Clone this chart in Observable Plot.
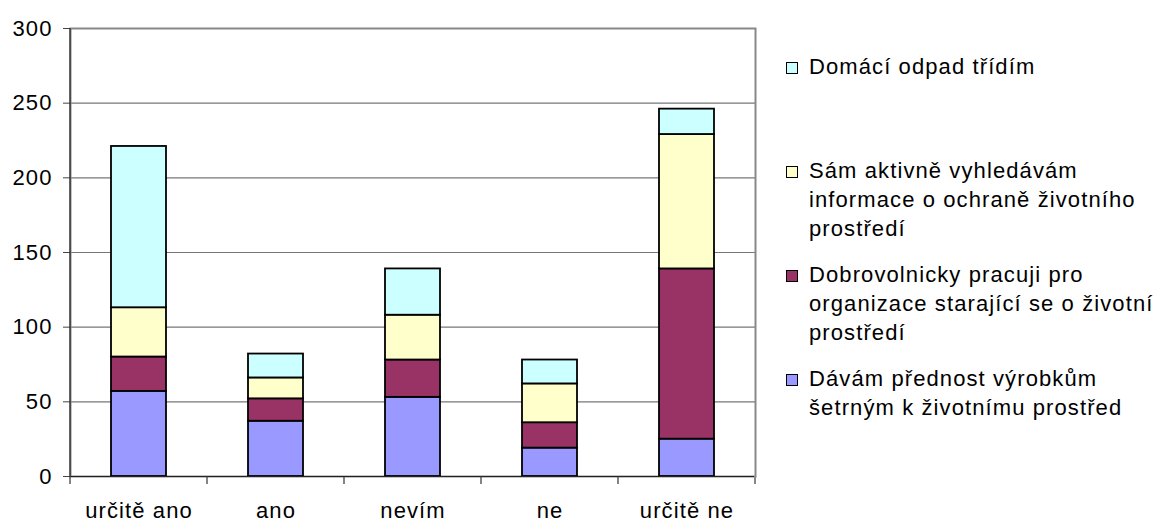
<!DOCTYPE html>
<html><head><meta charset="utf-8">
<script src="https://cdn.jsdelivr.net/npm/d3@7"></script>
<script src="https://cdn.jsdelivr.net/npm/@observablehq/plot@0.6"></script>
<style>
body{margin:0;background:#fff;}
#wrap{position:relative;width:1165px;height:523px;font-family:"Liberation Sans",Arial,sans-serif;background:#fff;}
.legend{position:absolute;left:786px;top:0;}
.item{position:absolute;left:0;white-space:nowrap;font-size:22px;line-height:29px;letter-spacing:1.1px;color:#000;}
.sw{position:absolute;left:0;width:10px;height:10px;border:1.5px solid #000;}
.txt{position:absolute;left:23px;top:0;}
</style></head><body><div id="wrap"></div>
<script>
// Categories (x axis)
const categories = ["určitě ano", "ano", "nevím", "ne", "určitě ne"];
// Series, bottom of stack first
const seriesNames = [
  "Dávám přednost výrobkům šetrným k životnímu prostřed",
  "Dobrovolnicky pracuji pro organizace starající se o životní prostředí",
  "Sám aktivně vyhledávám informace o ochraně životního prostředí",
  "Domácí odpad třídím"
];
const legendLines = [
  ["Dávám přednost výrobkům", "šetrným k životnímu prostřed"],
  ["Dobrovolnicky pracuji pro", "organizace starající se o životní", "prostředí"],
  ["Sám aktivně vyhledávám", "informace o ochraně životního", "prostředí"],
  ["Domácí odpad třídím"]
];
const seriesColors = ["#9999FF", "#993366", "#FFFFCC", "#CCFFFF"];
const valuesProdukty = [57, 37, 53, 19, 25];
const valuesDobrovolnik = [23, 15, 25, 17, 114];
const valuesInformace = [33, 14, 30, 26, 90];
const valuesOdpad = [108, 16, 31, 16, 17];
const yTicks = [0, 50, 100, 150, 200, 250, 300];

const seriesValues = [valuesProdukty, valuesDobrovolnik, valuesInformace, valuesOdpad];
const data = [];
seriesNames.forEach((s, si) => categories.forEach((c, ci) => data.push({category: c, series: s, value: seriesValues[si][ci]})));

const plot = Plot.plot({
  width: 1165,
  height: 523,
  marginLeft: 70,
  marginRight: 410,
  marginTop: 28,
  marginBottom: 47,
  style: {fontFamily: "'Liberation Sans', Arial, sans-serif", fontSize: "22px", letterSpacing: "1.1px", color: "#000", background: "#fff", overflow: "visible"},
  x: {domain: categories, paddingInner: 0.6, paddingOuter: 0.3, label: null},
  y: {domain: [0, 300], label: null},
  color: {domain: seriesNames, range: seriesColors},
  marks: [
    Plot.ruleY(yTicks.filter(d => d > 0 && d < 300), {stroke: "#777", strokeWidth: 1.2}),
    Plot.frame({stroke: "#888", strokeWidth: 2}),
    Plot.barY(data, Plot.stackY({order: null}, {x: "category", y: "value", fill: "series", stroke: "#000", strokeWidth: 1.8})),
    Plot.axisY({ticks: yTicks, tickSize: 7, tickPadding: 11, stroke: "#444", fill: "#000"}),
    Plot.axisX({tickSize: 0, tickPadding: 26, fill: "#000"}),
    Plot.ruleY([0], {stroke: "#222", strokeWidth: 1.2})
  ]
});

const xs = plot.scale("x");
const ys = plot.scale("y");
const off = (xs.step - xs.bandwidth) / 2;
const bounds = categories.map(c => xs.apply(c) - off);
bounds.push(xs.apply(categories[categories.length - 1]) + xs.bandwidth + off);
const y0 = ys.apply(0), yTop = ys.apply(300);
const g = d3.select(plot).append("g");
g.selectAll("line.bt").data(bounds).join("line")
  .attr("class", "bt")
  .attr("x1", d => d).attr("x2", d => d)
  .attr("y1", y0).attr("y2", y0 + 8)
  .attr("stroke", (d, i) => i === bounds.length - 1 ? "#888" : "#333")
  .attr("stroke-width", (d, i) => i === bounds.length - 1 ? 2 : 1.2);
g.append("line").attr("x1", bounds[0]).attr("x2", bounds[0]).attr("y1", yTop).attr("y2", y0)
  .attr("stroke", "#222").attr("stroke-width", 1.2);

const wrap = document.getElementById("wrap");
wrap.appendChild(plot);

const legend = document.createElement("div");
legend.className = "legend";
const order = [3, 2, 1, 0];
order.forEach((si, k) => {
  const item = document.createElement("div");
  item.className = "item";
  item.style.top = (52 + 104 * k) + "px";
  const sw = document.createElement("div");
  sw.className = "sw";
  sw.style.top = "10px";
  sw.style.background = seriesColors[si];
  const txt = document.createElement("div");
  txt.className = "txt";
  txt.innerHTML = legendLines[si].join("<br>");
  item.appendChild(sw);
  item.appendChild(txt);
  legend.appendChild(item);
});
wrap.appendChild(legend);
</script>
</body></html>
